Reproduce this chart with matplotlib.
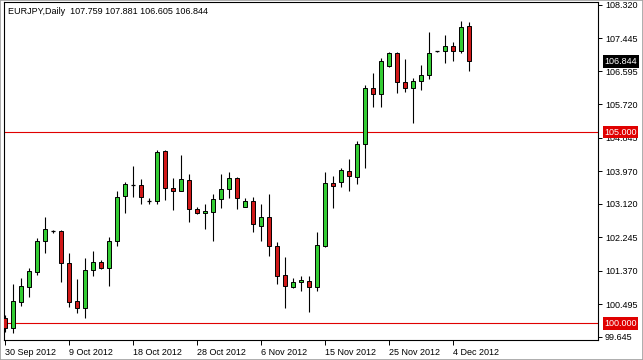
#!/usr/bin/env python3
from __future__ import annotations

import matplotlib

matplotlib.use("Agg")
import matplotlib.pyplot as plt
from matplotlib.patches import Rectangle
from matplotlib.transforms import ScaledTranslation, blended_transform_factory


FIG_W_PX = 643
FIG_H_PX = 360
DPI = 100
BULL_COLOR = "#33CC33"
BEAR_COLOR = "#D01818"
LEVEL_COLOR = "#E00000"
FONT = ["Liberation Sans", "DejaVu Sans"]
FONT_SIZE = 6.5

SYMBOL = "EURJPY,Daily"

# daily bars, MT4 style (Sunday bars included)
dates = [
    "30 Sep", "1 Oct", "2 Oct", "3 Oct", "4 Oct", "5 Oct", "7 Oct", "8 Oct", "9 Oct", "10 Oct",
    "11 Oct", "12 Oct", "14 Oct", "15 Oct", "16 Oct", "17 Oct", "18 Oct", "19 Oct", "21 Oct", "22 Oct",
    "23 Oct", "24 Oct", "25 Oct", "26 Oct", "28 Oct", "29 Oct", "30 Oct", "31 Oct", "1 Nov", "2 Nov",
    "4 Nov", "5 Nov", "6 Nov", "7 Nov", "8 Nov", "9 Nov", "11 Nov", "12 Nov", "13 Nov", "14 Nov",
    "15 Nov", "16 Nov", "18 Nov", "19 Nov", "20 Nov", "21 Nov", "22 Nov", "23 Nov", "25 Nov", "26 Nov",
    "27 Nov", "28 Nov", "29 Nov", "30 Nov", "2 Dec", "3 Dec", "4 Dec", "5 Dec", "6 Dec",
]
opens = [
    100.14, 99.88, 100.57, 100.96, 101.34, 102.14, 102.41, 102.41, 101.57, 100.59,
    100.39, 101.40, 101.60, 101.46, 102.15, 103.33, 103.62, 103.62, 103.20, 103.20,
    104.50, 103.53, 103.47, 103.75, 103.00, 102.88, 102.92, 103.24, 103.50, 103.81,
    103.05, 103.20, 102.55, 102.77, 102.01, 101.26, 100.96, 101.07, 101.12, 100.96,
    102.03, 103.66, 103.70, 103.99, 103.83, 104.68, 106.14, 105.99, 106.73, 107.06,
    106.30, 106.14, 106.34, 106.48, 107.11, 107.11, 107.25, 107.13, 107.759,
]
highs = [
    100.22, 101.03, 101.19, 101.45, 102.24, 102.79, 102.45, 102.43, 101.83, 101.16,
    101.70, 101.89, 101.65, 102.27, 103.47, 103.70, 104.11, 103.77, 103.27, 104.53,
    104.53, 103.79, 104.40, 103.90, 103.05, 103.12, 103.38, 103.90, 103.96, 103.83,
    103.28, 103.31, 103.12, 103.38, 102.12, 101.73, 101.19, 101.25, 101.24, 102.38,
    103.95, 103.85, 104.05, 104.29, 104.77, 106.23, 106.55, 106.93, 107.08, 107.08,
    106.91, 106.40, 106.75, 107.61, 107.13, 107.54, 107.36, 107.90, 107.881,
]
lows = [
    99.78, 99.75, 100.45, 100.70, 101.26, 101.84, 102.37, 101.09, 100.44, 100.26,
    100.13, 101.24, 101.42, 100.98, 102.02, 102.88, 103.31, 103.11, 103.12, 103.12,
    103.22, 102.95, 103.45, 102.66, 102.85, 102.47, 102.14, 103.01, 103.27, 102.99,
    103.03, 102.40, 102.14, 101.77, 101.02, 100.41, 100.92, 100.85, 100.31, 100.85,
    101.99, 103.01, 103.57, 103.47, 103.63, 104.05, 105.66, 105.66, 106.71, 106.03,
    106.05, 105.23, 106.10, 106.38, 107.09, 106.80, 106.86, 107.06, 106.605,
]
closes = [
    99.88, 100.59, 100.98, 101.37, 102.15, 102.47, 102.41, 101.57, 100.57, 100.39,
    101.40, 101.60, 101.46, 102.14, 103.31, 103.63, 103.64, 103.31, 103.20, 104.49,
    103.53, 103.47, 103.77, 103.00, 102.88, 102.94, 103.24, 103.50, 103.81, 103.27,
    103.20, 102.59, 102.77, 102.01, 101.25, 100.99, 101.07, 101.13, 100.96, 102.05,
    103.66, 103.58, 104.01, 103.85, 104.68, 106.14, 105.99, 106.86, 107.06, 106.30,
    106.14, 106.34, 106.48, 107.06, 107.11, 107.25, 107.13, 107.75, 106.844,
]

x_tick_index = [0, 8, 16, 24, 32, 40, 48, 56]
x_tick_labels = [
    "30 Sep 2012", "9 Oct 2012", "18 Oct 2012", "28 Oct 2012",
    "6 Nov 2012", "15 Nov 2012", "25 Nov 2012", "4 Dec 2012",
]
y_tick_values = [108.320, 107.445, 106.595, 105.720, 104.845, 103.970,
                 103.120, 102.245, 101.370, 100.495, 99.645]
level_lines = [105.000, 100.000]


def _draw_candles(ax) -> None:
    body_w = 0.62
    for i, (o, h, l, c) in enumerate(zip(opens, highs, lows, closes)):
        ax.vlines(i, l, h, color="black", linewidth=0.8, zorder=2)
        if abs(c - o) < 0.02:
            ax.hlines(o, i - body_w / 2, i + body_w / 2, color="black", linewidth=0.9, zorder=3)
            continue
        color = BULL_COLOR if c > o else BEAR_COLOR
        ax.add_patch(
            Rectangle((i - body_w / 2, min(o, c)), body_w, abs(c - o),
                      facecolor=color, edgecolor="black", linewidth=0.7, zorder=3)
        )


def _price_box(ax, value: float, bg: str) -> None:
    trans = blended_transform_factory(ax.transAxes, ax.transData)
    ax.annotate(
        f"{value:.3f}", xy=(1.0, value), xycoords=trans, xytext=(4.5, 0), textcoords="offset points",
        ha="left", va="center", color="white", fontsize=FONT_SIZE, family=FONT,
        bbox=dict(boxstyle="square,pad=0.18", facecolor=bg, edgecolor="none"),
        annotation_clip=False, zorder=10,
    )


def main() -> None:
    fig = plt.figure(figsize=(FIG_W_PX / DPI, FIG_H_PX / DPI), dpi=DPI)
    fig.patch.set_facecolor("white")
    ax = fig.add_axes([4 / FIG_W_PX, 20 / FIG_H_PX, 594 / FIG_W_PX, 338 / FIG_H_PX])
    ax.set_facecolor("white")

    _draw_candles(ax)
    for level in level_lines:
        ax.axhline(level, color=LEVEL_COLOR, linewidth=0.8, zorder=1)

    ax.set_xlim(-0.125, 74.125)
    ax.set_ylim(99.566, 108.398)

    ax.set_xticks(x_tick_index)
    ax.set_xticklabels(x_tick_labels, family=FONT, fontsize=FONT_SIZE, ha="left")
    offset = ScaledTranslation(1.5 / 72, 0, fig.dpi_scale_trans)
    for label in ax.get_xticklabels():
        label.set_transform(label.get_transform() + offset)

    ax.yaxis.tick_right()
    ax.set_yticks(y_tick_values)
    ax.set_yticklabels([f"{v:.3f}" for v in y_tick_values], family=FONT, fontsize=FONT_SIZE)
    ax.tick_params(axis="x", direction="out", length=3.5, width=0.7, pad=2, colors="black")
    ax.tick_params(axis="y", direction="out", length=3, width=0.7, pad=2, colors="black")

    for spine in ax.spines.values():
        spine.set_color("black")
        spine.set_linewidth(0.8)

    for level in level_lines:
        _price_box(ax, level, LEVEL_COLOR)
    _price_box(ax, closes[-1], "black")

    header = f"{SYMBOL}  {opens[-1]:.3f} {highs[-1]:.3f} {lows[-1]:.3f} {closes[-1]:.3f}"
    fig.text(8 / FIG_W_PX, 1 - 11 / FIG_H_PX, header, family=FONT, fontsize=FONT_SIZE,
             ha="left", va="center", color="black")

    fig.add_artist(Rectangle((0, 0), 1, 1, transform=fig.transFigure, fill=False,
                             edgecolor="#A0A0A0", linewidth=1.2))

    fig.savefig("out.png", dpi=DPI)
    plt.close(fig)


if __name__ == "__main__":
    main()
